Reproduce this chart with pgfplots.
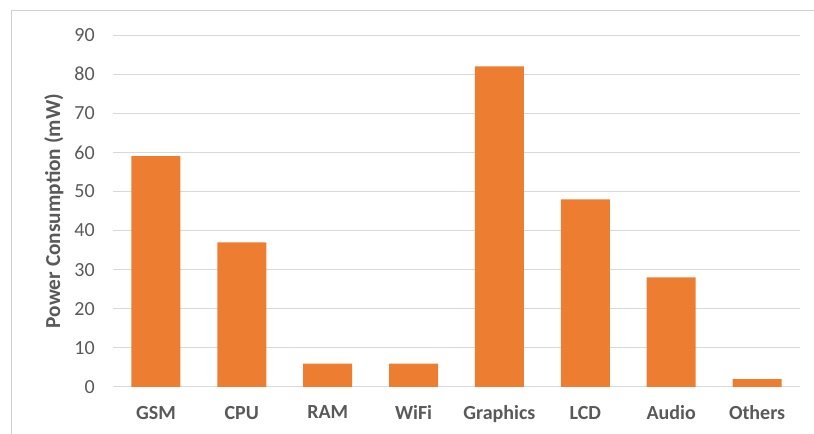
\documentclass[border=0pt]{standalone}
\usepackage{pgfplots}
\pgfplotsset{compat=1.18}
\usepackage{fontspec}
\setmainfont{Carlito}
\definecolor{barorange}{HTML}{ED7D31}
\definecolor{txtgray}{HTML}{595959}
\definecolor{gridgray}{HTML}{D9D9D9}
\definecolor{framegray}{HTML}{D0D0D0}
\begin{document}
\begin{tikzpicture}[x=0.75pt,y=0.75pt]
  % page area and chart frame (1 unit = 1 px)
  \path[use as bounding box] (0,0) rectangle (814,434);
  \draw[framegray, line width=0.75pt] (11,0) -- (11,423) -- (814,423);
  \begin{axis}[
    at={(113pt*0.75,47pt*0.75)}, anchor=south west,
    scale only axis,
    width=515.25pt, height=264pt,
    ymin=0, ymax=90, ytick={0,10,...,90},
    xmin=-0.5, xmax=7.5,
    xtick=data,
    xticklabels={GSM,CPU,RAM,WiFi,Graphics,LCD,Audio,Others},
    axis line style={draw=none},
    axis x line*=bottom,
    x axis line style={draw=gridgray, line width=0.75pt},
    major tick length=0pt,
    ymajorgrids, grid style={gridgray, line width=0.75pt},
    ticklabel style={font=\fontsize{15}{17}\selectfont, text=txtgray},
    xticklabel style={font=\fontsize{15}{17}\selectfont\bfseries, inner sep=0pt, anchor=north, yshift=-14pt},
    yticklabel style={inner sep=0pt, anchor=east, xshift=-13.5pt},
    ylabel={Power Consumption (mW)},
    ylabel style={at={(axis description cs:-0.0859,0.5)}, anchor=center,
      font=\fontsize{16}{18}\selectfont\bfseries, text=txtgray},
    /pgf/number format/assume math mode=true,
    clip=false,
  ]
    \addplot[ybar, bar width=36.75pt, fill=barorange, draw=none]
      coordinates {(0,59) (1,37) (2,6) (3,6) (4,82) (5,48) (6,28) (7,2)};
  \end{axis}
\end{tikzpicture}
\end{document}
